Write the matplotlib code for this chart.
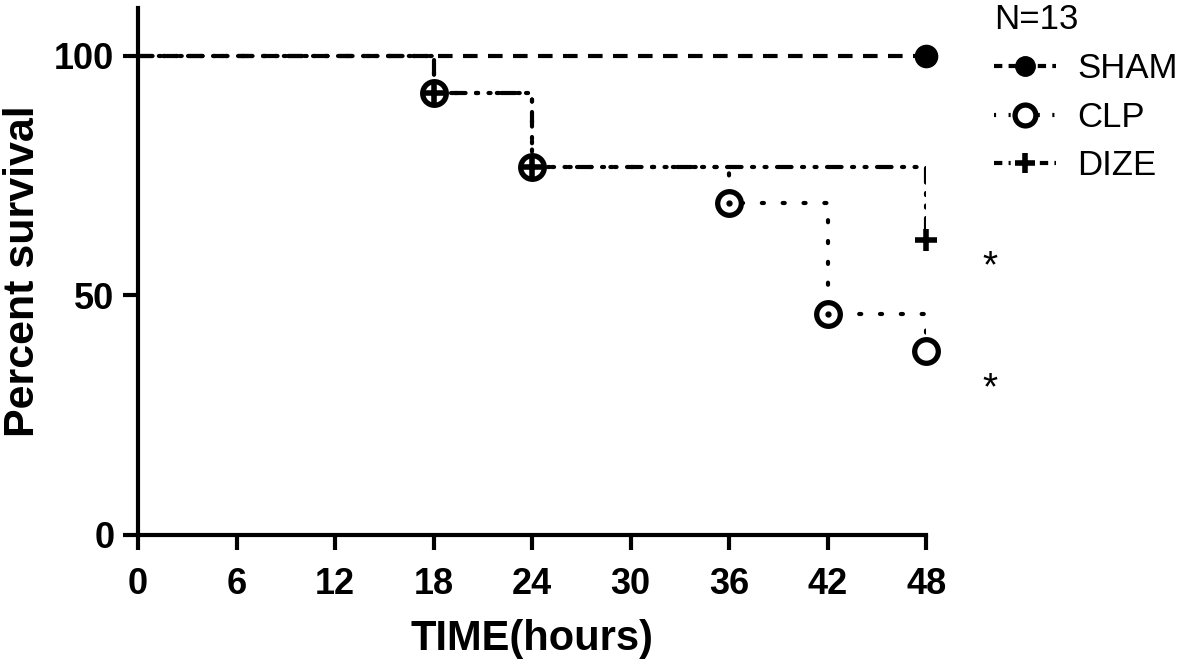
import numpy as np
import matplotlib.pyplot as plt
from matplotlib.lines import Line2D

plt.rcParams['font.family'] = ['Liberation Sans', 'DejaVu Sans']

# Kaplan-Meier steps (N=13)
sham_t = [0, 48]
sham_s = [100, 100]
clp_t = [0, 18, 24, 36, 42, 48]
clp_s = [100, 92.3, 76.9, 69.2, 46.2, 38.5]
dize_t = [0, 18, 24, 48]
dize_s = [100, 92.3, 76.9, 61.5]
xticks = [0, 6, 12, 18, 24, 30, 36, 42, 48]
yticks = [0, 50, 100]

fig = plt.figure(figsize=(11.8, 6.67), dpi=100)
ax = fig.add_axes([0.117, 0.198, 0.668, 0.79])

lw = 3
ax.step(sham_t, sham_s, where='post', color='black', lw=lw, ls=(0, (3.5, 2.5)))
ax.step(clp_t, clp_s, where='post', color='black', lw=lw, ls=(0, (0.5, 4.5)),
        dash_capstyle='round')
ax.step(dize_t, dize_s, where='post', color='black', lw=lw,
        ls=(0, (3.5, 2.5, 0.5, 2.5, 0.5, 2.5)), dash_capstyle='round')

ax.plot(sham_t[-1:], sham_s[-1:], 'o', color='black', ms=16, clip_on=False)
ax.plot(clp_t[1:], clp_s[1:], 'o', mfc='white', mec='black', mew=3.8, ms=17,
        clip_on=False)
ax.plot(clp_t[1:-1], clp_s[1:-1], 'o', color='black', ms=3.5)
ax.plot(dize_t[1:], dize_s[1:], '+', color='black', mew=4, ms=16, clip_on=False)

ax.set_xlim(0, 48)
ax.set_ylim(0, 110)
ax.set_xticks(xticks)
ax.set_yticks(yticks)
ax.spines['top'].set_visible(False)
ax.spines['right'].set_visible(False)
ax.spines['left'].set_linewidth(3)
ax.spines['bottom'].set_linewidth(3)
ax.tick_params(width=3, length=11, labelsize=26)
ax.tick_params(axis='x', pad=12)
ax.tick_params(axis='y', pad=6)
for lab in ax.get_xticklabels() + ax.get_yticklabels():
    lab.set_fontweight('bold')
ax.set_xlabel('TIME(hours)', fontsize=30, fontweight='bold', labelpad=12)
ax.set_ylabel('Percent survival', fontsize=31, fontweight='bold', labelpad=8)

handles = [
    Line2D([], [], color='black', lw=lw, ls=(0, (2, 1.5)), marker='o', ms=14),
    Line2D([], [], color='black', lw=lw, ls=(0, (0.5, 3)), marker='o', mfc='white',
           mew=3.8, ms=15),
    Line2D([], [], color='black', lw=lw, ls=(0, (2, 1.5, 0.5, 1.5)), marker='+',
           mew=4, ms=15),
]
leg = ax.legend(handles, ['SHAM', 'CLP', 'DIZE'], title='N=13', frameon=False,
                loc='upper left', bbox_to_anchor=(1.068, 1.035), fontsize=25,
                title_fontsize=25, handlelength=1.8, handletextpad=0.6,
                labelspacing=0.45, borderaxespad=0)
leg._legend_box.align = 'left'

ax.text(1.081, 0.508, '*', transform=ax.transAxes, fontsize=28, ha='center', va='center')
ax.text(1.081, 0.277, '*', transform=ax.transAxes, fontsize=28, ha='center', va='center')

fig.savefig('out.png', dpi=100)
